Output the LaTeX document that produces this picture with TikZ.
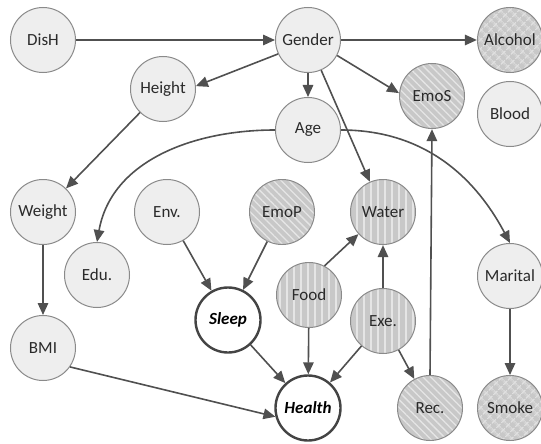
\documentclass[tikz,border=0pt]{standalone}
\usepackage{fontspec}
\setmainfont{Carlito}
\usetikzlibrary{arrows.meta,patterns.meta}
\definecolor{edgec}{HTML}{505050}
\definecolor{bordc}{HTML}{8A8A8A}
\definecolor{lightf}{HTML}{EEEEEE}
\definecolor{hatchf}{HTML}{C8C8C8}
\definecolor{txtc}{HTML}{2A2A2A}
\definecolor{darkc}{HTML}{444444}
\begin{document}
\begin{tikzpicture}[
  base/.style={circle, draw=bordc, line width=1pt, minimum size=65pt, inner sep=0pt,
    font=\fontsize{17}{17}\selectfont, text=txtc},
  plain/.style={base, fill=lightf},
  diag/.style={base, preaction={fill=hatchf},
    pattern={Lines[angle=-45,distance=5.5pt,line width=1.3pt]}, pattern color=white!90!black},
  vert/.style={base, preaction={fill=hatchf},
    pattern={Lines[angle=90,distance=7pt,line width=1.2pt]}, pattern color=white!90!black},
  cross/.style={base, preaction={fill=hatchf},
    pattern={Hatch[angle=45,distance=6.5pt,line width=1.3pt]}, pattern color=white!88!black},
  goal/.style={base, fill=white, draw=darkc, line width=2.4pt,
    font=\fontsize{17}{17}\selectfont\bfseries\itshape, text=black},
  arr/.style={draw=edgec, line width=1.6pt, -{Triangle[length=12pt,width=10.5pt]}}
]
\useasboundingbox (0,0) rectangle (541pt,-444pt);
\begin{scope}[x=1pt,y=1pt]
\node[plain] (DisH) at (43,-40) {DisH};
\node[plain] (Gender) at (308,-40) {Gender};
\node[cross] (Alcohol) at (510,-40) {Alcohol};
\node[plain] (Height) at (163,-89) {Height};
\node[diag] (EmoS) at (432,-96) {EmoS};
\node[plain] (Blood) at (510,-114) {Blood};
\node[plain] (Age) at (308,-130) {Age};
\node[plain] (Weight) at (43,-212) {Weight};
\node[plain] (Env) at (167,-212) {Env.};
\node[diag] (EmoP) at (282,-212) {EmoP};
\node[vert] (Water) at (383,-212) {Water};
\node[plain] (Edu) at (97,-275) {Edu.};
\node[plain] (Marital) at (510,-276) {Marital};
\node[vert] (Food) at (309,-295) {Food};
\node[goal] (Sleep) at (228,-320) {Sleep};
\node[vert] (Exe) at (383,-321) {Exe.};
\node[plain] (BMI) at (43,-348) {BMI};
\node[goal] (Health) at (308,-408) {Health};
\node[diag] (Rec) at (430,-408) {Rec.};
\node[cross] (Smoke) at (510,-408) {Smoke};

\draw[arr] (DisH) -- (Gender);
\draw[arr] (Gender) -- (Alcohol);
\draw[arr] (Gender.205) -- (Height.5);
\draw[arr] (Gender) -- (Age);
\draw[arr] (Gender.-28) -- (EmoS.175);
\draw[arr] (Gender) -- (Water);
\draw[arr] (Height) -- (Weight);
\draw[arr] (Age.west) to[out=180,in=80] (Edu.north);
\draw[arr] (Age.east) to[out=0,in=118] (Marital.north);
\draw[arr] (Weight) -- (BMI);
\draw[arr] (Env) -- (Sleep);
\draw[arr] (EmoP) -- (Sleep);
\draw[arr] (Food.62) -- (Water.222);
\draw[arr] (Exe) -- (Water);
\draw[arr] (Food) -- (Health);
\draw[arr] (Exe) -- (Health);
\draw[arr] (Exe) -- (Rec);
\draw[arr] (Sleep) -- (Health);
\draw[arr] (BMI.-35) -- (Health.195);
\draw[arr] (Rec.north) -- (EmoS.south);
\draw[arr] (Marital) -- (Smoke);
\end{scope}
\end{tikzpicture}
\end{document}
